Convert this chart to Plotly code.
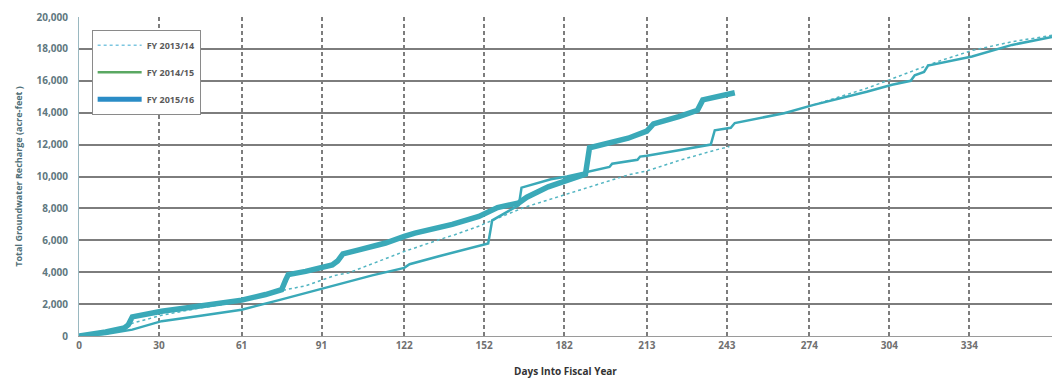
import plotly.graph_objects as go

# days into fiscal year / cumulative recharge (acre-feet)
days_1314 = [0, 10, 17, 20, 31, 45, 61, 76, 85, 96, 101, 122, 138, 141, 151, 152, 167, 183, 206,
             213, 226, 239, 244, 250, 275.6, 285, 295.5, 303, 313, 322, 335, 350, 365]
fy_1314 = [0, 200, 480, 800, 1300, 1750, 2150, 2850, 3150, 3800, 3950, 5300, 6200, 6350, 6950, 7040,
           8060, 8900, 10100, 10350, 11050, 11670, 11880, None, 14490, 15000, 15530, 16000, 16650,
           17200, 17900, 18450, 18850]

days_1415 = [0, 10, 20, 31, 45, 61, 75, 85, 92, 100, 110, 122, 124, 135, 145, 151, 153.5, 155, 160,
             165, 166, 172, 177, 183, 190, 195, 199, 200, 206, 209.5, 210.5, 213, 225, 237, 238.5,
             244.5, 246, 264.5, 275.6, 295.5, 305, 312, 313.5, 317, 318.5, 335, 350, 365]
fy_1415 = [0, 120, 400, 930, 1250, 1650, 2250, 2700, 3020, 3350, 3800, 4270, 4500, 5000, 5450, 5730,
           5800, 7250, 7700, 8200, 9300, 9600, 9830, 10000, 10250, 10420, 10600, 10800, 10970, 11050,
           11250, 11300, 11650, 12000, 12900, 13050, 13350, 13970, 14490, 15310, 15750, 16000, 16350,
           16550, 16950, 17520, 18250, 18750]

days_1516 = [0, 5, 10, 17, 18.5, 20, 25, 31, 40, 50, 61, 70, 76, 77.5, 78.5, 85, 95, 97, 99, 105,
             115, 122, 126, 140, 150, 157, 165, 168, 172, 176, 182, 190, 191.5, 206, 213, 215.5,
             225, 232, 234, 246]
fy_1516 = [0, 100, 250, 500, 700, 1200, 1380, 1550, 1750, 2000, 2250, 2600, 2900, 3500, 3850, 4050,
           4450, 4700, 5150, 5400, 5830, 6250, 6450, 7000, 7500, 8050, 8350, 8700, 9000, 9350, 9700,
           10150, 11800, 12400, 12850, 13300, 13750, 14150, 14800, 15250]

x_ticks = [0, 30, 61, 91, 122, 152, 182, 213, 243, 274, 304, 334, 365]
y_ticks = list(range(0, 20001, 2000))

teal = '#3aa9b8'
grey = '#6f6f6f'
font = '"Open Sans", Arial, sans-serif'

fig = go.Figure()
fig.add_trace(go.Scatter(x=days_1314, y=fy_1314, mode='lines', showlegend=False,
                         line=dict(color='#52b5c2', width=1.5, dash='dot')))
fig.add_trace(go.Scatter(x=days_1415, y=fy_1415, mode='lines', showlegend=False,
                         line=dict(color=teal, width=2.5)))
fig.add_trace(go.Scatter(x=days_1516, y=fy_1516, mode='lines', showlegend=False,
                         line=dict(color=teal, width=5.5)))

# legend swatches (the scanned legend shows different tints than the plotted lines)
legend_items = [('FY 2013/14', '#7cc6e0', 1.5, 'dot'),
                ('FY 2014/15', '#5aa862', 2.5, 'solid'),
                ('FY 2015/16', '#2a8cc6', 5, 'solid')]
for i, (name, col, w, d) in enumerate(legend_items):
    fig.add_trace(go.Scatter(x=[None], y=[None], mode='lines', name=name, legendgroup=str(i),
                             line=dict(color=col, width=w, dash=d)))

fig.update_layout(
    width=1052, height=379,
    margin=dict(l=79, r=0, t=17, b=43, autoexpand=False),
    paper_bgcolor='white', plot_bgcolor='white',
    font=dict(family=font, size=10, color=grey),
    legend=dict(x=0.013, y=0.96, xanchor='left', yanchor='top',
                bgcolor='white', bordercolor='#8a8a8a', borderwidth=1,
                font=dict(size=9, color='#5a5a5a', family=font, weight='bold'),
                tracegroupgap=8, itemwidth=44),
)
fig.update_xaxes(range=[0, 365], tickvals=x_ticks, ticktext=[str(v) for v in x_ticks],
                 showgrid=True, gridcolor='#7d7d7d', gridwidth=1.5, griddash='4px,3px',
                 zeroline=False, showline=True, linecolor='#9a9a9a', linewidth=1,
                 ticks='', tickfont=dict(size=10, color='#707070', family=font, weight='bold'),
                 title=dict(text='Days Into Fiscal Year', standoff=16,
                            font=dict(size=10, color='#333333', family=font, weight='bold')),
                 automargin=False)
fig.update_yaxes(range=[0, 20000], tickvals=y_ticks, tickformat=',',
                 showgrid=True, gridcolor='#7d7d7d', gridwidth=2,
                 zeroline=False, showline=True, linecolor='#9ab8c0', linewidth=1,
                 ticks='', ticklabelstandoff=8,
                 tickfont=dict(size=10, color='#5f7880', family=font, weight='bold'),
                 title=dict(text='Total Groundwater Recharge (acre-feet )', standoff=12,
                            font=dict(size=9, color='#4f6f78', family=font, weight='bold')),
                 automargin=False)

# the page body has a default 8px margin; drop it so the figure sits at the window corner
fig.write_html("out.html", config={'displayModeBar': False},
               post_script="document.body.style.margin='0';")
